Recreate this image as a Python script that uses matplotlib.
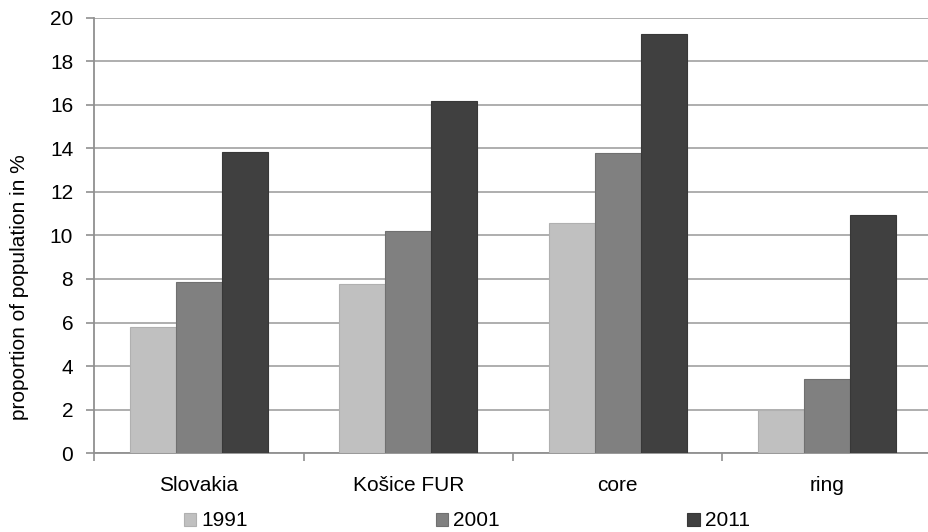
import numpy as np
import matplotlib.pyplot as plt

plt.rcParams['font.family'] = ['Liberation Sans', 'DejaVu Sans']

# === Data ===
categories = ['Slovakia', 'Košice FUR', 'core', 'ring']
years = ['1991', '2001', '2011']
values_1991 = [5.8, 7.77, 10.57, 1.98]
values_2001 = [7.85, 10.2, 13.79, 3.4]
values_2011 = [13.85, 16.18, 19.26, 10.92]
y_ticks = [0, 2, 4, 6, 8, 10, 12, 14, 16, 18, 20]

series = [values_1991, values_2001, values_2011]
colors = ['#c0c0c0', '#808080', '#404040']
edges = ['#b0b0b0', '#707070', '#383838']

fig = plt.figure(figsize=(9.29, 5.32), dpi=100)
ax = fig.add_axes([94 / 929, 1 - 453.3 / 532, 838 / 929, 435.8 / 532])

x = np.arange(len(categories))
bar_w = 0.22
for k, (vals, year) in enumerate(zip(series, years)):
    ax.bar(x + (k - 1) * bar_w, vals, width=bar_w, color=colors[k],
           edgecolor=edges[k], linewidth=0.8, label=year, zorder=3)

ax.set_xlim(-0.5, len(categories) - 0.5)
ax.set_ylim(0, 20)
ax.set_yticks(y_ticks)
ax.yaxis.grid(True, color='#a8a8a8', linewidth=1.3, zorder=0)
ax.set_axisbelow(True)

# category labels at centres, tick marks at boundaries
ax.set_xticks(x)
ax.set_xticklabels(categories)
ax.set_xticks(np.arange(len(categories)) - 0.5, minor=True)
ax.tick_params(axis='x', which='major', length=0, pad=16, labelsize=15)
ax.tick_params(axis='x', which='minor', length=6, width=1.2, color='#909090')
ax.tick_params(axis='y', length=6, width=1.2, color='#909090', pad=9, labelsize=15)

for side in ['top', 'right']:
    ax.spines[side].set_visible(False)
for side in ['left', 'bottom']:
    ax.spines[side].set_color('#909090')
    ax.spines[side].set_linewidth(1.3)

fig.text(20 / 929, 1 - 287 / 532, 'proportion of population in %', rotation=90,
         ha='center', va='center', fontsize=15)

fig.legend(loc='center', bbox_to_anchor=(467 / 929, 1 - 521 / 532), ncol=3,
           frameon=False, fontsize=15, handlelength=0.6, handleheight=0.6,
           handletextpad=0.25, columnspacing=9.0, borderpad=0)

plt.savefig('out.png', dpi=100)
